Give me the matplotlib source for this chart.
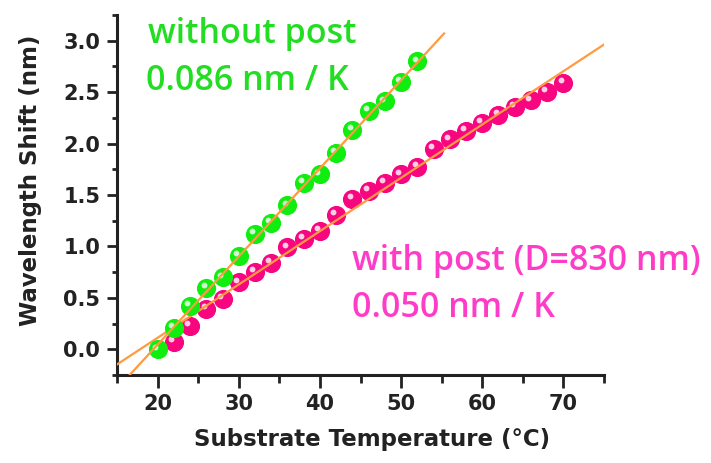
import numpy as np
import matplotlib
matplotlib.use("Agg")
import matplotlib.pyplot as plt
from matplotlib.ticker import MultipleLocator, FormatStrFormatter
from matplotlib.transforms import offset_copy

# Data
temp_without = [20, 22, 24, 26, 28, 30, 32, 34, 36, 38, 40, 42, 44, 46, 48, 50, 52]
shift_without = [0.00, 0.21, 0.42, 0.60, 0.70, 0.91, 1.12, 1.23, 1.40, 1.62, 1.70,
                 1.91, 2.13, 2.32, 2.41, 2.60, 2.80]

temp_with = [22, 24, 26, 28, 30, 32, 34, 36, 38, 40, 42, 44, 46, 48, 50, 52, 54,
             56, 58, 60, 62, 64, 66, 68, 70]
shift_with = [0.07, 0.23, 0.39, 0.49, 0.65, 0.75, 0.84, 0.99, 1.07, 1.15, 1.31, 1.46,
              1.54, 1.62, 1.70, 1.77, 1.95, 2.04, 2.12, 2.20, 2.28, 2.36, 2.42, 2.50, 2.59]

label_without = ["without post", "0.086 nm / K"]
label_with = ["with post (D=830 nm)", "0.050 nm / K"]

W, H, DPI = 711, 463, 100
fig = plt.figure(figsize=(W / DPI, H / DPI), dpi=DPI)
ax = fig.add_axes([117 / W, 1 - 375 / H, (604 - 117) / W, (375 - 15) / H])

green = "#10EE10"
pink = "#F7067F"
orange = "#FF9A40"
dark = "#222222"

# linear fits
fg = np.polyfit(temp_without, shift_without, 1)
fp = np.polyfit(temp_with, shift_with, 1)
xg = np.array([15, 55.3])
xp = np.array([15, 75])

ms = 13.8
hl_off = dict(x=-2.0, y=2.0, units="points")

ax.plot(temp_with, shift_with, "o", color=pink, ms=ms, mec="none", zorder=3)
ax.plot(temp_with, shift_with, "o", color="white", ms=4.2, mec="none", alpha=0.8,
        transform=offset_copy(ax.transData, fig=fig, **hl_off), zorder=4)
ax.plot(xp, np.polyval(fp, xp), color=orange, lw=1.6, zorder=5)

ax.plot(temp_without, shift_without, "o", color=green, ms=ms, mec="none", zorder=6)
ax.plot(temp_without, shift_without, "o", color="white", ms=4.2, mec="none", alpha=0.8,
        transform=offset_copy(ax.transData, fig=fig, **hl_off), zorder=7)
ax.plot(xg, np.polyval(fg, xg), color=orange, lw=1.6, zorder=8)

ax.set_xlim(15, 75)
ax.set_ylim(-0.25, 3.25)
ax.xaxis.set_major_locator(MultipleLocator(10))
ax.xaxis.set_minor_locator(MultipleLocator(5))
ax.yaxis.set_major_locator(MultipleLocator(0.5))
ax.yaxis.set_minor_locator(MultipleLocator(0.25))
ax.yaxis.set_major_formatter(FormatStrFormatter("%.1f"))

for s in ["top", "right"]:
    ax.spines[s].set_visible(False)
for s in ["left", "bottom"]:
    ax.spines[s].set_linewidth(2.2)
    ax.spines[s].set_color(dark)

ax.tick_params(axis="y", which="major", direction="out", length=7, width=2, color=dark,
               labelsize=15, labelcolor=dark, pad=5)
ax.tick_params(axis="y", which="minor", direction="out", length=3.5, width=2, color=dark)
ax.tick_params(axis="x", which="major", direction="out", length=9, width=2, color=dark,
               labelsize=15, labelcolor=dark, pad=5)
ax.tick_params(axis="x", which="minor", direction="out", length=6, width=2, color=dark)
for lab in ax.get_xticklabels() + ax.get_yticklabels():
    lab.set_fontfamily("DejaVu Sans")
    lab.set_fontweight("bold")

ax.set_xlabel("Substrate Temperature (°C)", fontfamily="DejaVu Sans",
              fontweight="bold", fontsize=16.5, color=dark)
ax.set_ylabel("Wavelength Shift (nm)", fontfamily="DejaVu Sans",
              fontweight="bold", fontsize=16.5, color=dark)
ax.xaxis.set_label_coords((372 - 117) / (604 - 117), (375 - 428) / 360)
ax.yaxis.set_label_coords((42 - 117) / (604 - 117), (375 - 180) / 360)

tf = dict(family=["Open Sans", "DejaVu Sans"], weight="semibold", fontsize=24.5)
fig.text(148 / W, 1 - 43 / H, label_without[0], color="#22DD22", va="baseline", ha="left", **tf)
fig.text(146 / W, 1 - 90 / H, label_without[1], color="#22DD22", va="baseline", ha="left", **tf)
fig.text(352 / W, 1 - 270 / H, label_with[0], color="#FF3CC8", va="baseline", ha="left", **tf)
fig.text(352 / W, 1 - 317 / H, label_with[1], color="#FF3CC8", va="baseline", ha="left", **tf)

fig.savefig("out.png", dpi=DPI)
